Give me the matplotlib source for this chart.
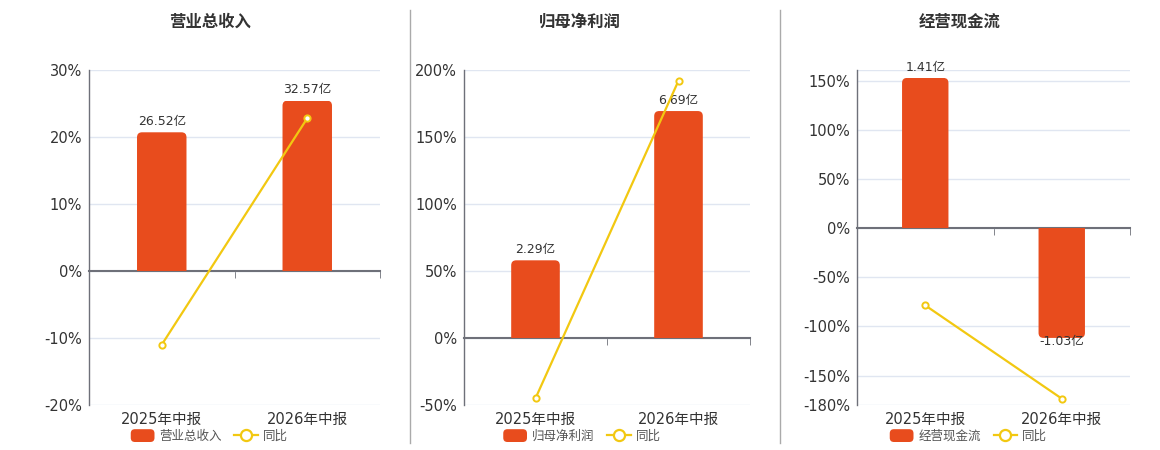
import matplotlib
matplotlib.use("Agg")
import matplotlib.pyplot as plt
from matplotlib.lines import Line2D
from matplotlib.patches import FancyBboxPatch, Rectangle
from matplotlib.legend_handler import HandlerPatch
import numpy as np

plt.rcParams['font.family'] = ['DejaVu Sans', 'Noto Sans CJK SC']

categories = ["2025年中报", "2026年中报"]
titles = ["营业总收入", "归母净利润", "经营现金流"]

revenue = [26.52, 32.57]
revenue_yoy = [-11.0, 22.8]
profit = [2.29, 6.69]
profit_yoy = [-45.0, 192.0]
cashflow = [1.41, -1.03]
cashflow_yoy = [-78.6, -173.5]

bar_values = [revenue, profit, cashflow]
yoy_values = [revenue_yoy, profit_yoy, cashflow_yoy]
bar_labels = [["26.52亿", "32.57亿"], ["2.29亿", "6.69亿"], ["1.41亿", "-1.03亿"]]

pct_limits = [(-20, 30), (-50, 200), (-180, 161)]
pct_ticks = [[-20, -10, 0, 10, 20, 30],
             [-50, 0, 50, 100, 150, 200],
             [-180, -150, -100, -50, 0, 50, 100, 150, 161]]
pct_ticklabels = [["-20%", "-10%", "0%", "10%", "20%", "30%"],
                  ["-50%", "0%", "50%", "100%", "150%", "200%"],
                  ["-180%", "-150%", "-100%", "-50%", "0%", "50%", "100%", "150%", ""]]
# scale factor: bar value per percent unit (hidden secondary axis)
bar_scale = [1.281, 0.0395, 0.00922]

BAR_COLOR = "#E84C1D"
LINE_COLOR = "#F2C811"
AXIS_COLOR = "#6E7079"
GRID_COLOR = "#E0E6F1"
TEXT_COLOR = "#333333"

W, H = 1160, 450
fig = plt.figure(figsize=(W / 100, H / 100), dpi=100)

axes_px = [(89, 380), (464, 750), (857, 1130)]
title_x = [210, 580, 960]
top_px, bot_px = 70, 405


def rounded_handle(legend, orig_handle, xdescent, ydescent, width, height, fontsize):
    return FancyBboxPatch((-xdescent, -ydescent), width, height,
                          boxstyle="round,pad=0,rounding_size=3")


for i in range(3):
    l, r = axes_px[i]
    ax = fig.add_axes([l / W, 1 - bot_px / H, (r - l) / W, (bot_px - top_px) / H])
    lo, hi = pct_limits[i]
    ax.set_ylim(lo, hi)
    ax.set_xlim(-0.5, 1.5)
    ax.set_yticks(pct_ticks[i])
    ax.set_yticklabels(pct_ticklabels[i])
    ax.tick_params(axis='y', length=0, pad=5, labelsize=10.5, labelcolor=TEXT_COLOR)
    ax.grid(axis='y', color=GRID_COLOR, linewidth=1)
    ax.set_axisbelow(True)
    for s in ['top', 'right']:
        ax.spines[s].set_visible(False)
    ax.spines['left'].set_color(AXIS_COLOR)
    ax.spines['left'].set_linewidth(1)
    ax.spines['bottom'].set_position(('data', 0))
    ax.spines['bottom'].set_color(AXIS_COLOR)
    ax.spines['bottom'].set_linewidth(1.5)
    ax.spines['bottom'].set_zorder(5)
    ax.set_xticks([])
    ax.set_xticks([-0.5, 0.5, 1.5], minor=True)
    ax.tick_params(axis='x', which='minor', length=5, color=AXIS_COLOR, direction='out')

    sec = ax.secondary_xaxis('bottom')
    sec.set_xticks([0, 1])
    sec.set_xticklabels(categories)
    sec.tick_params(length=0, pad=5, labelsize=10.5, labelcolor=TEXT_COLOR)
    sec.spines['bottom'].set_visible(False)

    # hidden bar axis
    bx = ax.twinx()
    k = bar_scale[i]
    bx.set_ylim(lo * k, hi * k)
    bx.axis('off')
    x = np.arange(len(categories))
    bars = bx.bar(x, bar_values[i], width=0.34, color=BAR_COLOR, zorder=2)
    px_per_x = (r - l) / 2.0
    px_per_y = (bot_px - top_px) / ((hi - lo) * k)
    rx = 5 / px_per_x
    ry = 5 / px_per_y
    # rounded far corners: draw a rounded box extending past zero, clipped at zero
    for b in bars:
        b.set_visible(False)
        bx0, by0, bw, bh = b.get_x(), b.get_y(), b.get_width(), b.get_height()
        ext = 3 * ry
        if bh >= 0:
            fy, fh = by0 - ext, bh + ext
        else:
            fy, fh = by0 + bh, -bh + ext
        fb = FancyBboxPatch((bx0, fy), bw, fh,
                            boxstyle=f"round,pad=0,rounding_size={rx}",
                            mutation_aspect=ry / rx,
                            facecolor=BAR_COLOR, edgecolor='none', zorder=2)
        bx.add_patch(fb)
        clip = Rectangle((bx0 - 0.1, by0), bw + 0.2, bh, transform=bx.transData)
        fb.set_clip_path(clip)
    for xi, v, lab in zip(x, bar_values[i], bar_labels[i]):
        if v >= 0:
            bx.annotate(lab, (xi, v), xytext=(0, 3), textcoords='offset points',
                        ha='center', va='bottom', fontsize=9, color=TEXT_COLOR)
        else:
            bx.annotate(lab, (xi, v), xytext=(0, 2), textcoords='offset points',
                        ha='center', va='top', fontsize=9, color=TEXT_COLOR)

    # yoy line on top
    lx = ax.twinx()
    lx.set_ylim(lo, hi)
    lx.axis('off')
    lx.plot(x, yoy_values[i], color=LINE_COLOR, linewidth=1.6, marker='o',
            markersize=4.5, markerfacecolor='white', markeredgecolor=LINE_COLOR,
            markeredgewidth=1.4, zorder=3)

    fig.text(title_x[i] / W, 1 - 22 / H, titles[i], ha='center', va='center',
             fontsize=11.8, fontweight='bold', color=TEXT_COLOR)

    bar_handle = FancyBboxPatch((0, 0), 1, 1, boxstyle="round,pad=0,rounding_size=0.2",
                                facecolor=BAR_COLOR, edgecolor='none')
    line_handle = Line2D([], [], color=LINE_COLOR, linewidth=1.6, marker='o', markersize=8,
                         markerfacecolor='white', markeredgecolor=LINE_COLOR,
                         markeredgewidth=1.6)
    leg = fig.legend([bar_handle, line_handle], [titles[i], "同比"], loc='center',
                     bbox_to_anchor=(((l + r) / 2 - 25) / W, 1 - 436 / H),
                     ncol=2, frameon=False, fontsize=9, handlelength=1.9,
                     handleheight=1.2, handletextpad=0.4, columnspacing=1.0,
                     labelcolor='#555555',
                     handler_map={FancyBboxPatch: HandlerPatch(patch_func=rounded_handle)})

# separators
for sx in [410, 780]:
    fig.add_artist(Line2D([sx / W, sx / W], [1 - 10 / H, 1 - 443 / H],
                          color='#AAAAAA', linewidth=1))

fig.savefig("out.png", dpi=100, facecolor='white')
